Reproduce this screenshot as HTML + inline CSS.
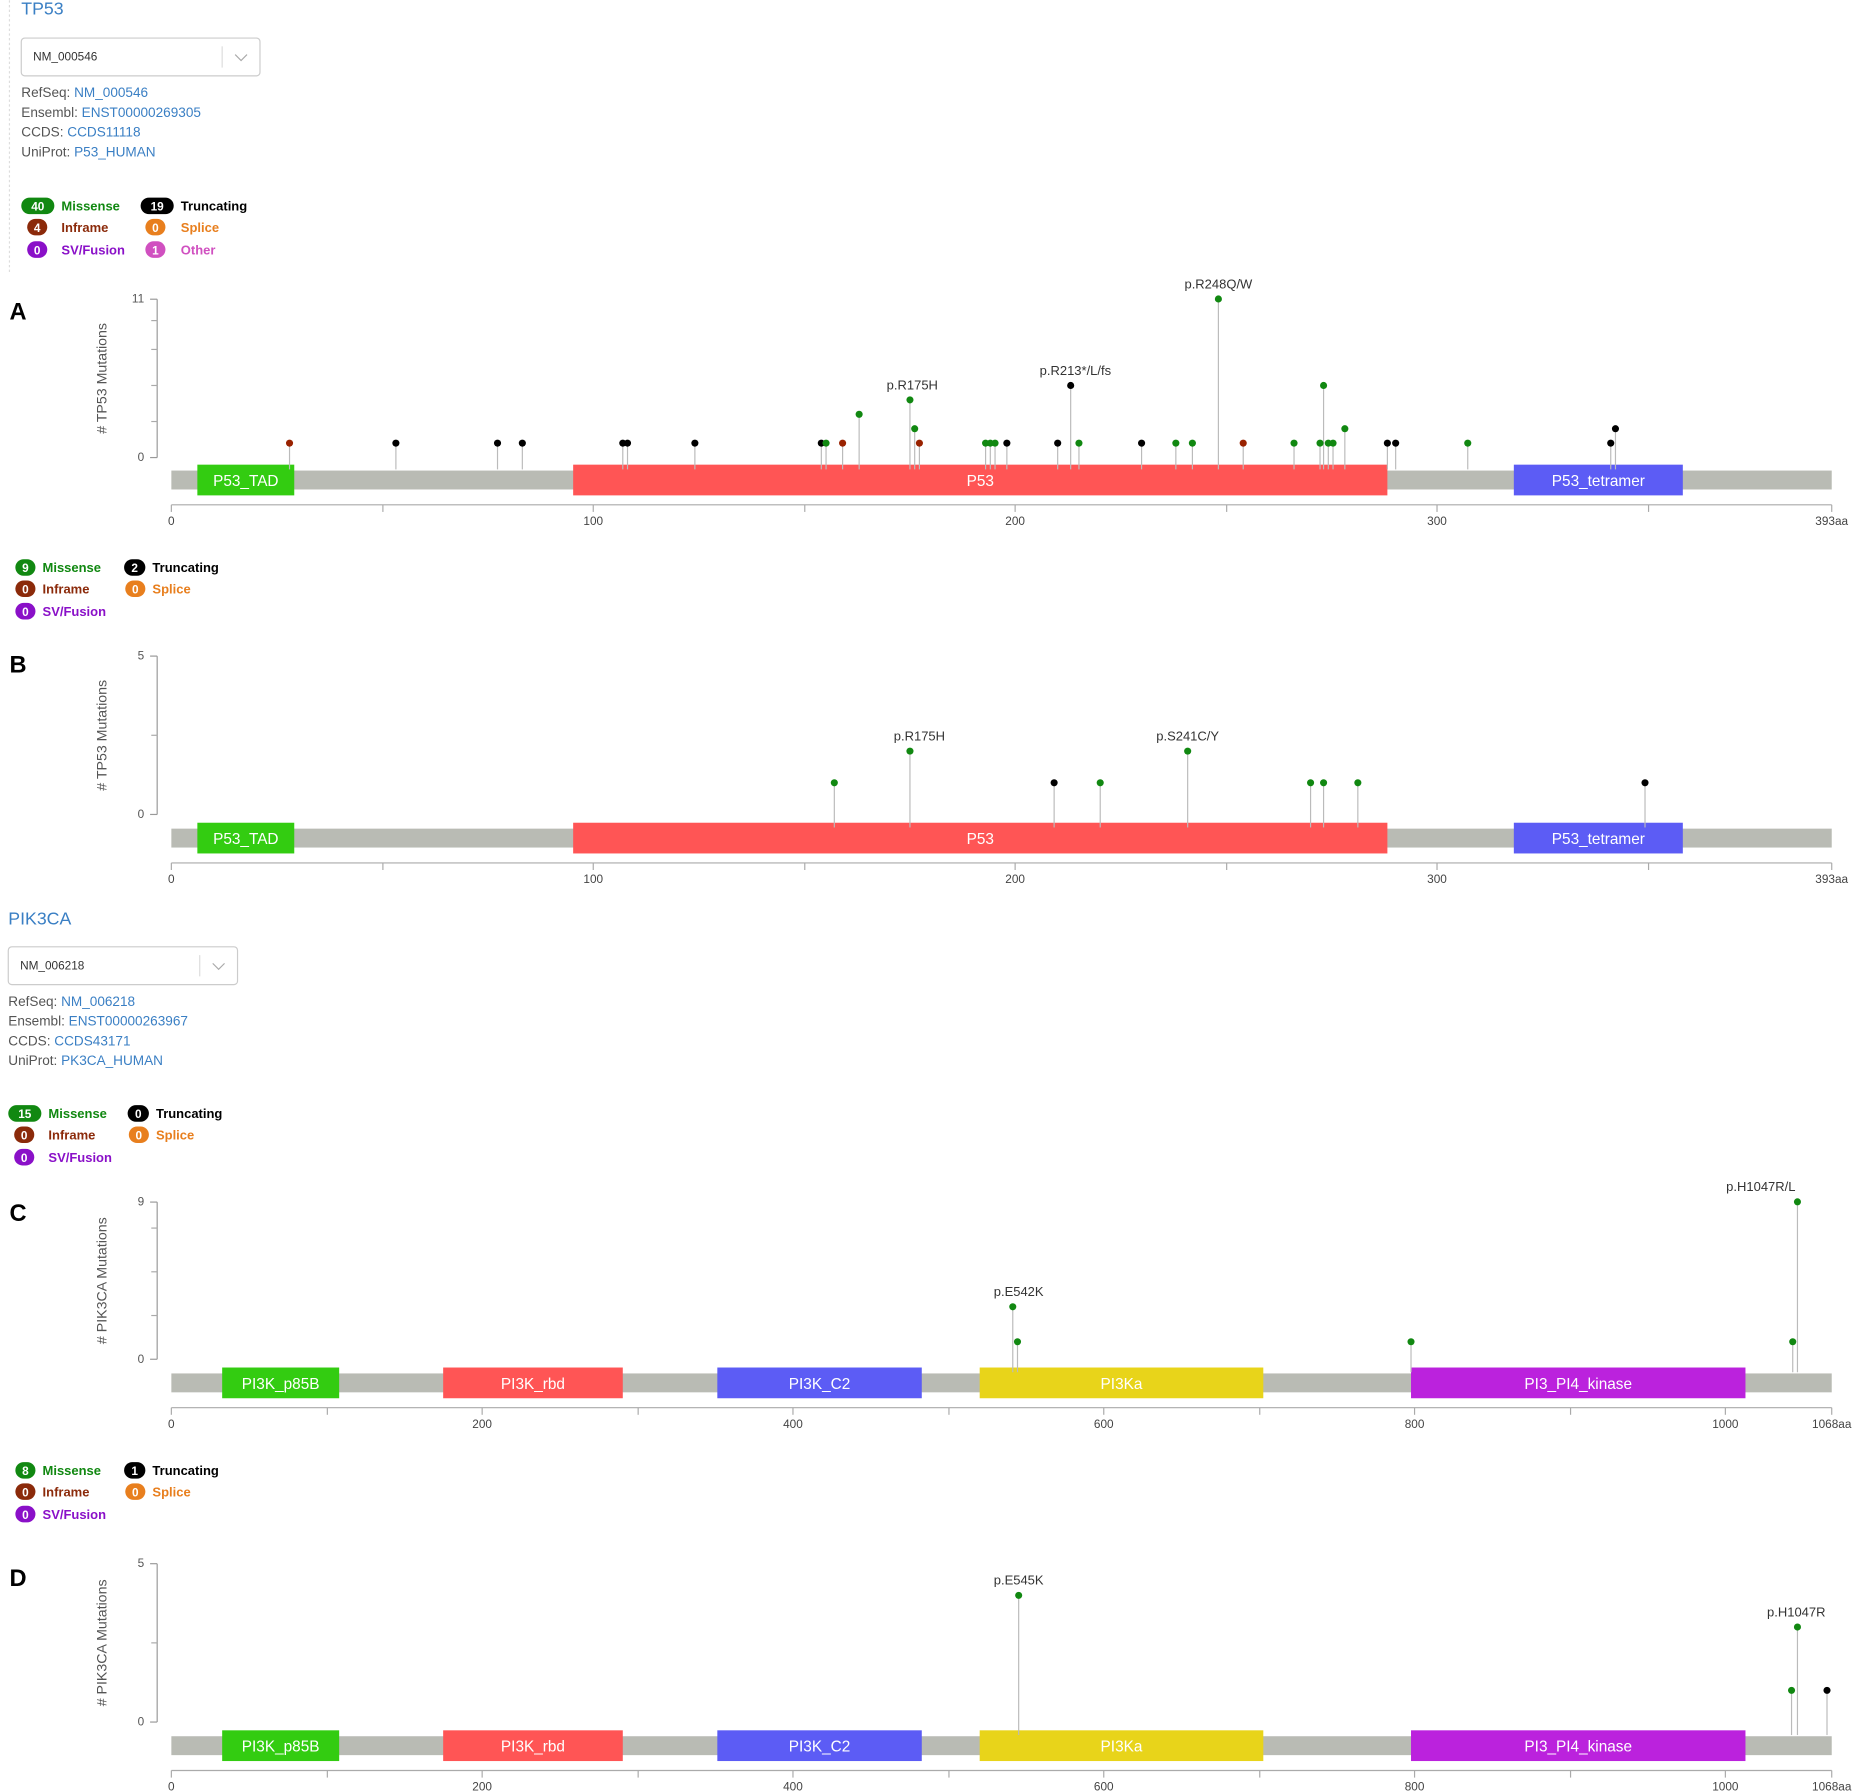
<!DOCTYPE html>
<html><head><meta charset="utf-8">
<style>
html,body{margin:0;padding:0;background:#fff;}
svg{display:block;font-family:"Liberation Sans",sans-serif;}
</style></head>
<body>
<svg id="s" width="1853" height="1792" viewBox="0 0 1568 1516" xmlns="http://www.w3.org/2000/svg"></svg>
<script>
const S=document.getElementById('s');let h='';
function T(x,y,t,o){o=o||{};h+=`<text x="${x}" y="${y}" font-size="${o.fs||12}" fill="${o.c||'#444'}" font-weight="${o.b?'bold':'normal'}" text-anchor="${o.a||'start'}" ${o.tr?`transform="${o.tr}"`:''}>${t}</text>`;}
function R(x,y,w,hh,c,ex){h+=`<rect x="${x}" y="${y}" width="${w}" height="${hh}" fill="${c}" ${ex||''}/>`;}
function L(x1,y1,x2,y2,c,w){h+=`<line x1="${x1}" y1="${y1}" x2="${x2}" y2="${y2}" stroke="${c||'#aaa'}" stroke-width="${w||1}"/>`;}
function C(x,y,c){h+=`<circle cx="${x}" cy="${y}" r="3" fill="${c}"/>`;}
const G='#118811',K='#000',RD='#992200',BL='#3a7fc4';
function header(x,y,gene,nm,ens,ccds,uni,dd,w){
 T(x,y,gene,{fs:15,c:BL});
 R(x,dd,w,32,'#fff','stroke="#ccc" rx="3"');
 T(x+10,dd+19,nm,{fs:10,c:'#333'});
 L(x+w-32,dd+7,x+w-32,dd+25,'#ddd');
 h+=`<polyline points="${x+w-21},${dd+14} ${x+w-16},${dd+19} ${x+w-11},${dd+14}" fill="none" stroke="#aaa"/>`;
 let yy=dd+50;
 [['RefSeq: ',nm],['Ensembl: ',ens],['CCDS: ',ccds],['UniProt: ',uni]].forEach((p,i)=>{
  h+=`<text x="${x}" y="${yy+i*16.7}" font-size="11.5" fill="#555">${p[0]}<tspan fill="${BL}">${p[1]}</tspan></text>`;});
}
function legend(x,y,m,t,inf,sp,oth){
 function pill(px,py,n,c,w){R(px,py-7,w,14,c,'rx="7"');T(px+w/2,py+4,n,{fs:10,c:'#fff',b:1,a:'middle'});}
 const mw=m>9?28:17, tw=t>9?28:18;
 const t1=x+mw+6;
 const p2=x+(m>9?101:92);
 const t2=p2+tw+6;
 const ip=m>9?x+5:x;
 const sp2=p2+(t>9?4:1);
 pill(x,y,m,'#118811',mw);T(t1,y+4,'Missense',{fs:11,c:'#118811',b:1});
 pill(p2,y,t,'#000',tw);T(t2,y+4,'Truncating',{fs:11,c:'#000',b:1});
 pill(ip,y+18,inf,'#8b2a0a',17);T(t1,y+22,'Inframe',{fs:11,c:'#8b2a0a',b:1});
 pill(sp2,y+18,sp,'#e87f1e',17);T(t2,y+22,'Splice',{fs:11,c:'#e87f1e',b:1});
 pill(ip,y+37,0,'#8a10c8',17);T(t1,y+41,'SV/Fusion',{fs:11,c:'#8a10c8',b:1});
 if(oth!==undefined){pill(sp2,y+37,oth,'#d050c0',17);T(t2,y+41,'Other',{fs:11,c:'#d050c0',b:1});}
}
function panel(o){
 T(8,o.ly,o.L,{fs:20,b:1,c:'#000'});
 L(133,o.ytop,133,o.y0,'#999');
 L(127,o.ytop,133,o.ytop,'#999');L(127,o.y0,133,o.y0,'#999');
 o.yt.forEach(v=>L(128,o.y0-v*o.pc,133,o.y0-v*o.pc,'#aaa'));
 T(122,o.ytop+3,o.ymax,{fs:10,c:'#555',a:'end'});T(122,o.y0+3,'0',{fs:10,c:'#555',a:'end'});
 const cy=(o.ytop+o.y0)/2;
 T(90,cy,o.yl,{fs:12,c:'#555',a:'middle',tr:`rotate(-90 90 ${cy})`});
 R(145,o.bar,1405,16,'#b9bbb4');
 o.dom.forEach(d=>{R(d[0],o.bar-5,d[1]-d[0],26,d[2]);T((d[0]+d[1])/2,o.bar+13,d[3],{fs:13,c:'#fff',a:'middle'});});
 o.m.forEach(p=>{const y=o.y0-p[1]*o.pc;L(p[0],y,p[0],o.bar-1,'#bbb');});
 o.m.forEach(p=>{const y=o.y0-p[1]*o.pc;C(p[0],y,p[2]);if(p[3])T(p[0]+(p[4]||0),y-9,p[3],{fs:11,c:'#333',a:'middle'});});
 const ax=o.bar+29;
 L(145,ax,1550,ax,'#aaa');
 o.xt.forEach(t=>{L(t[0],ax,t[0],ax+6,'#aaa');if(t[1]!=='')T(t[0],ax+17,t[1],{fs:10,c:'#444',a:'middle'});});
 T(1550,ax+17,o.end,{fs:10,c:'#444',a:'middle'});
}
h+=`<line x1="8" y1="0" x2="8" y2="230" stroke="#ddd" stroke-dasharray="2,2"/>`;
header(18,12,'TP53','NM_000546','ENST00000269305','CCDS11118','P53_HUMAN',32,202);
legend(18,174,40,19,4,0,1);
const tpDom=[[167,249,'#33cc11','P53_TAD'],[485,1174,'#ff5555','P53'],[1281,1424,'#5c5cf5','P53_tetramer']];
const tpX=[[145,'0'],[324,''],[502,'100'],[681,''],[859,'200'],[1038,''],[1216,'300'],[1395,''],[1550,'']];
panel({L:'A',ly:270,ytop:253,y0:387,pc:12.2,ymax:11,yt:[2.5,5,7.5,9.5],yl:'# TP53 Mutations',bar:398,dom:tpDom,xt:tpX,end:'393aa',
 m:[[245,1,RD],[335,1,K],[421,1,K],[442,1,K],[527,1,K],[531,1,K],[588,1,K],[695,1,K],[699,1,G],[713,1,RD],[727,3,G],[770,4,G,'p.R175H',2],[774,2,G],[778,1,RD],[834,1,G],[838,1,G],[842,1,G],[852,1,K],[895,1,K],[906,5,K,'p.R213*/L/fs',4],[913,1,G],[966,1,K],[995,1,G],[1009,1,G],[1031,11,G,'p.R248Q/W'],[1052,1,RD],[1095,1,G],[1117,1,G],[1120,5,G],[1124,1,G],[1128,1,G],[1138,2,G],[1174,1,K],[1181,1,K],[1242,1,G],[1363,1,K],[1367,2,K]]});
legend(13,480,9,2,0,0);
panel({L:'B',ly:569,ytop:555,y0:689,pc:26.8,ymax:5,yt:[2.5],yl:'# TP53 Mutations',bar:701,dom:tpDom,xt:tpX,end:'393aa',
 m:[[706,1,G],[770,2,G,'p.R175H',8],[892,1,K],[931,1,G],[1005,2,G,'p.S241C/Y'],[1109,1,G],[1120,1,G],[1149,1,G],[1392,1,K]]});
header(7,782,'PIK3CA','NM_006218','ENST00000263967','CCDS43171','PK3CA_HUMAN',801,194);
legend(7,942,15,0,0,0);
const pkDom=[[188,287,'#33cc11','PI3K_p85B'],[375,527,'#ff5555','PI3K_rbd'],[607,780,'#5c5cf5','PI3K_C2'],[829,1069,'#e8d41a','PI3Ka'],[1194,1477,'#bb22dd','PI3_PI4_kinase']];
const pkX=[[145,'0'],[277,''],[408,'200'],[540,''],[671,'400'],[803,''],[934,'600'],[1066,''],[1197,'800'],[1329,''],[1460,'1000'],[1550,'']];
panel({L:'C',ly:1033,ytop:1017,y0:1150,pc:14.8,ymax:9,yt:[2.5,5,7.5],yl:'# PIK3CA Mutations',bar:1162,dom:pkDom,xt:pkX,end:'1068aa',
 m:[[857,3,G,'p.E542K',5],[861,1,G],[1194,1,G],[1517,1,G],[1521,9,G,'p.H1047R/L',-31]]});
legend(13,1244,8,1,0,0);
panel({L:'D',ly:1342,ytop:1323,y0:1457,pc:26.8,ymax:5,yt:[2.5],yl:'# PIK3CA Mutations',bar:1469,dom:pkDom,xt:pkX,end:'1068aa',
 m:[[862,4,G,'p.E545K'],[1516,1,G],[1521,3,G,'p.H1047R',-1],[1546,1,K]]});
S.innerHTML=h;
</script>
</body></html>
